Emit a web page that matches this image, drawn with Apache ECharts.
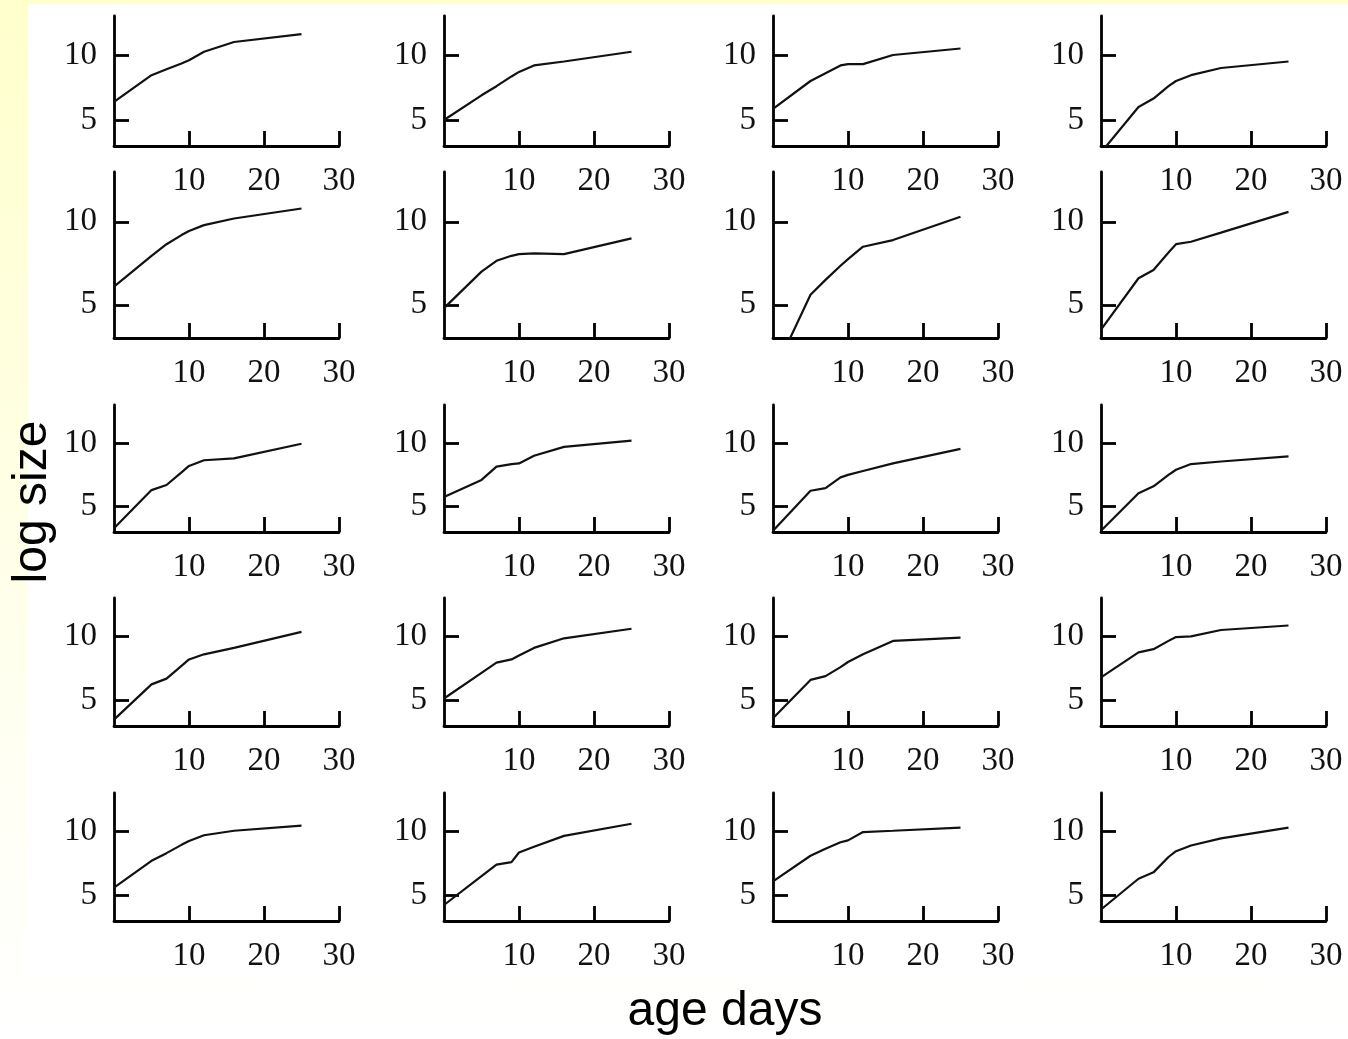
<!DOCTYPE html>
<html>
<head>
<meta charset="utf-8">
<script src="https://cdn.jsdelivr.net/npm/echarts@6/dist/echarts.min.js"></script>
<style>
  html, body { margin: 0; padding: 0; }
  body { background: linear-gradient(#ffffcc, #fffff4 75%, #ffffff); }
  #chart { width: 1348px; height: 1039px; }
</style>
</head>
<body>
<div id="chart"></div>
<script>
// ages in days where log size was measured
const ages = [0, 5, 7, 9, 10, 12, 16, 25]
const xTicks = [10, 20, 30]
const yTicks = [5, 10]

// log size per individual, row by row (4 per row)
const size01 = [6.4, 8.45, 8.9, 9.35, 9.6, 10.25, 11.0, 11.6]
const size02 = [5.0, 6.9, 7.6, 8.35, 8.7, 9.2, 9.5, 10.25]
const size03 = [5.85, 8.0, 8.6, 9.2, 9.3, 9.3, 10.0, 10.5]
const size04 = [2.5, 6.0, 6.65, 7.6, 8.0, 8.45, 9.0, 9.5]
const size05 = [6.1, 7.95, 8.65, 9.2, 9.45, 9.8, 10.2, 10.8]
const size06 = [4.8, 7.0, 7.65, 7.95, 8.05, 8.1, 8.05, 9.0]
const size07 = [0.8, 5.6, 6.5, 7.35, 7.75, 8.5, 8.9, 10.3]
const size08 = [3.5, 6.6, 7.1, 8.15, 8.65, 8.8, 9.35, 10.6]
const size09 = [3.3, 6.3, 6.7, 7.7, 8.2, 8.65, 8.8, 9.95]
const size10 = [5.75, 7.1, 8.15, 8.35, 8.4, 9.0, 9.7, 10.2]
const size11 = [3.1, 6.25, 6.45, 7.3, 7.5, 7.8, 8.4, 9.55]
const size12 = [3.1, 6.05, 6.6, 7.5, 7.9, 8.35, 8.55, 8.95]
const size13 = [3.5, 6.25, 6.7, 7.7, 8.2, 8.6, 9.1, 10.35]
const size14 = [5.15, 7.15, 7.95, 8.2, 8.5, 9.1, 9.85, 10.6]
const size15 = [3.6, 6.6, 6.9, 7.6, 8.0, 8.6, 9.65, 9.9]
const size16 = [6.8, 8.75, 9.0, 9.65, 9.95, 10.0, 10.5, 10.85]
const size17 = [5.6, 7.7, 8.3, 8.95, 9.25, 9.7, 10.05, 10.45]
const size18 = [4.25, 6.5, 7.4, 7.6, 8.35, 8.8, 9.65, 10.6]
const size19 = [6.1, 8.1, 8.65, 9.15, 9.3, 9.95, 10.05, 10.3]
const size20 = [3.9, 6.3, 6.8, 8.0, 8.45, 8.9, 9.45, 10.3]

const panels = [
  size01, size02, size03, size04,
  size05, size06, size07, size08,
  size09, size10, size11, size12,
  size13, size14, size15, size16,
  size17, size18, size19, size20
]

// panel layout (px)
const colLeft = [114, 444, 773, 1101]
const rowTop = [16, 172, 405, 598, 793]
const rowHeight = [130, 166, 127, 128, 128]
const panelWidth = 225

const axisColor = '#000'
const labelFont = {
  fontFamily: 'Liberation Serif, Times New Roman, serif',
  fontSize: 33,
  color: '#111'
}

let grids = []
let xAxes = []
let yAxes = []
let series = []

panels.forEach((vals, i) => {
  const row = Math.floor(i / 4)
  const col = i % 4
  grids.push({
    left: colLeft[col],
    top: rowTop[row],
    width: panelWidth,
    height: rowHeight[row],
    containLabel: false
  })
  xAxes.push({
    type: 'value',
    gridIndex: i,
    min: 0,
    max: 30,
    axisLine: { onZero: false, lineStyle: { color: axisColor, width: 2.8 } },
    axisTick: { inside: true, length: 15, customValues: xTicks, lineStyle: { color: axisColor, width: 2.8 } },
    axisLabel: Object.assign({ customValues: xTicks, margin: 19 }, labelFont),
    splitLine: { show: false }
  })
  yAxes.push({
    type: 'value',
    gridIndex: i,
    min: 3,
    max: 13,
    axisLine: { show: true, onZero: false, lineStyle: { color: axisColor, width: 2.8 } },
    axisTick: { show: true, inside: true, length: 15, customValues: yTicks, lineStyle: { color: axisColor, width: 2.8 } },
    axisLabel: Object.assign({ customValues: yTicks, margin: 17 }, labelFont),
    splitLine: { show: false }
  })
  series.push({
    type: 'line',
    xAxisIndex: i,
    yAxisIndex: i,
    data: ages.map((a, j) => [a, vals[j]]),
    symbol: 'none',
    clip: true,
    lineStyle: { color: '#111', width: 2.2 }
  })
})

const chart = echarts.init(document.getElementById('chart'))
chart.setOption({
  animation: false,
  backgroundColor: 'transparent',
  grid: grids,
  xAxis: xAxes,
  yAxis: yAxes,
  series: series,
  graphic: [
    {
      type: 'rect',
      z: -10,
      silent: true,
      shape: { x: 28, y: 4, width: 1320, height: 971 },
      style: { fill: '#ffffff' }
    },
    {
      type: 'text',
      x: 33,
      y: 502,
      rotation: Math.PI / 2,
      style: {
        text: 'log size',
        font: '48px "Liberation Sans", Arial, sans-serif',
        fill: '#000',
        align: 'center',
        verticalAlign: 'middle'
      }
    },
    {
      type: 'text',
      x: 725,
      y: 1012,
      style: {
        text: 'age days',
        font: '48px "Liberation Sans", Arial, sans-serif',
        fill: '#000',
        align: 'center',
        verticalAlign: 'middle'
      }
    }
  ]
})
</script>
</body>
</html>
